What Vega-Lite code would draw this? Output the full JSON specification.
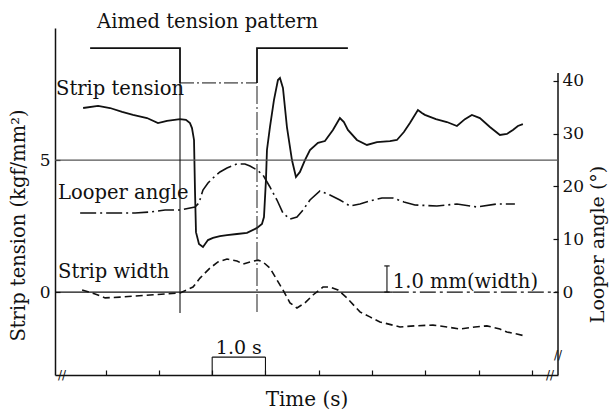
{
  "$schema": "https://vega.github.io/schema/vega-lite/v6.json",
  "width": 503,
  "height": 347,
  "autosize": {"type": "none"},
  "padding": {"left": 55, "top": 28, "right": 51, "bottom": 36},
  "background": "white",
  "config": {
    "view": {"stroke": null},
    "font": "DejaVu Serif",
    "axis": {
      "domainColor": "#111",
      "domainWidth": 1.5,
      "tickColor": "#111",
      "tickWidth": 1.2,
      "labelFont": "DejaVu Serif",
      "labelFontSize": 17,
      "labelColor": "#111",
      "titleFont": "DejaVu Serif",
      "titleFontSize": 20,
      "titleFontWeight": "normal",
      "titleColor": "#111",
      "grid": false
    }
  },
  "datasets": {
    "tension": [
      {"t": 0.578, "T": 6.97}, {"t": 0.859, "T": 7.05}, {"t": 1.083, "T": 6.97}, {"t": 1.31, "T": 6.82},
      {"t": 1.514, "T": 6.71}, {"t": 1.777, "T": 6.59}, {"t": 1.983, "T": 6.4}, {"t": 2.152, "T": 6.48},
      {"t": 2.396, "T": 6.55}, {"t": 2.508, "T": 6.52}, {"t": 2.583, "T": 6.4}, {"t": 2.621, "T": 6.21},
      {"t": 2.659, "T": 5.76}, {"t": 2.677, "T": 3.87}, {"t": 2.696, "T": 2.27}, {"t": 2.752, "T": 1.82},
      {"t": 2.827, "T": 1.71}, {"t": 2.921, "T": 1.97}, {"t": 3.015, "T": 2.05}, {"t": 3.146, "T": 2.12},
      {"t": 3.278, "T": 2.16}, {"t": 3.465, "T": 2.2}, {"t": 3.653, "T": 2.24}, {"t": 3.841, "T": 2.43},
      {"t": 3.934, "T": 2.58}, {"t": 3.972, "T": 2.84}, {"t": 4.009, "T": 4.24}, {"t": 4.028, "T": 5.38},
      {"t": 4.084, "T": 6.25}, {"t": 4.159, "T": 7.27}, {"t": 4.234, "T": 8.03}, {"t": 4.272, "T": 8.11},
      {"t": 4.328, "T": 7.73}, {"t": 4.403, "T": 6.25}, {"t": 4.497, "T": 5.0}, {"t": 4.572, "T": 4.36},
      {"t": 4.647, "T": 4.55}, {"t": 4.741, "T": 5.0}, {"t": 4.835, "T": 5.38}, {"t": 4.985, "T": 5.65},
      {"t": 5.116, "T": 5.72}, {"t": 5.266, "T": 6.14}, {"t": 5.397, "T": 6.59}, {"t": 5.472, "T": 6.44},
      {"t": 5.547, "T": 6.14}, {"t": 5.716, "T": 5.76}, {"t": 5.904, "T": 5.57}, {"t": 6.092, "T": 5.68},
      {"t": 6.336, "T": 5.72}, {"t": 6.467, "T": 5.76}, {"t": 6.598, "T": 6.06}, {"t": 6.711, "T": 6.4},
      {"t": 6.861, "T": 6.89}, {"t": 6.936, "T": 6.78}, {"t": 6.992, "T": 6.71}, {"t": 7.199, "T": 6.55},
      {"t": 7.405, "T": 6.44}, {"t": 7.593, "T": 6.29}, {"t": 7.743, "T": 6.55}, {"t": 7.874, "T": 6.71},
      {"t": 8.024, "T": 6.59}, {"t": 8.212, "T": 6.25}, {"t": 8.4, "T": 5.95}, {"t": 8.531, "T": 5.99},
      {"t": 8.644, "T": 6.14}, {"t": 8.737, "T": 6.29}, {"t": 8.831, "T": 6.36}
    ],
    "angle": [
      {"t": 0.522, "A": 14.97}, {"t": 0.991, "A": 14.97}, {"t": 1.553, "A": 14.97}, {"t": 1.835, "A": 15.16},
      {"t": 2.116, "A": 15.54}, {"t": 2.396, "A": 15.54}, {"t": 2.677, "A": 16.11}, {"t": 2.752, "A": 16.87},
      {"t": 2.827, "A": 19.33}, {"t": 2.921, "A": 20.65}, {"t": 3.015, "A": 21.6}, {"t": 3.146, "A": 22.74},
      {"t": 3.278, "A": 23.49}, {"t": 3.465, "A": 24.25}, {"t": 3.615, "A": 24.25}, {"t": 3.709, "A": 23.87},
      {"t": 3.841, "A": 23.11}, {"t": 3.953, "A": 22.17}, {"t": 4.084, "A": 19.9}, {"t": 4.216, "A": 17.43},
      {"t": 4.328, "A": 14.97}, {"t": 4.46, "A": 13.84}, {"t": 4.591, "A": 14.22}, {"t": 4.704, "A": 15.54},
      {"t": 4.835, "A": 17.43}, {"t": 5.022, "A": 19.14}, {"t": 5.21, "A": 18.38}, {"t": 5.397, "A": 17.43},
      {"t": 5.585, "A": 16.3}, {"t": 5.773, "A": 16.68}, {"t": 5.96, "A": 17.24}, {"t": 6.186, "A": 17.81},
      {"t": 6.392, "A": 17.81}, {"t": 6.598, "A": 17.06}, {"t": 6.805, "A": 16.49}, {"t": 7.217, "A": 16.3},
      {"t": 7.593, "A": 16.68}, {"t": 7.968, "A": 16.11}, {"t": 8.343, "A": 16.68}, {"t": 8.681, "A": 16.68}
    ],
    "width": [
      {"t": 0.559, "W": 0.08}, {"t": 0.803, "W": -0.07}, {"t": 0.991, "W": -0.22}, {"t": 1.272, "W": -0.19},
      {"t": 1.553, "W": -0.15}, {"t": 1.833, "W": -0.11}, {"t": 2.115, "W": -0.07}, {"t": 2.396, "W": -0.03},
      {"t": 2.64, "W": 0.19}, {"t": 2.771, "W": 0.53}, {"t": 2.959, "W": 0.91}, {"t": 3.109, "W": 1.14},
      {"t": 3.278, "W": 1.25}, {"t": 3.465, "W": 1.18}, {"t": 3.578, "W": 1.06}, {"t": 3.709, "W": 1.14},
      {"t": 3.859, "W": 1.21}, {"t": 3.953, "W": 1.14}, {"t": 4.084, "W": 0.91}, {"t": 4.216, "W": 0.46},
      {"t": 4.328, "W": 0.08}, {"t": 4.46, "W": -0.41}, {"t": 4.591, "W": -0.6}, {"t": 4.741, "W": -0.41},
      {"t": 4.891, "W": -0.11}, {"t": 5.079, "W": 0.19}, {"t": 5.21, "W": 0.19}, {"t": 5.36, "W": 0.08},
      {"t": 5.529, "W": -0.22}, {"t": 5.773, "W": -0.75}, {"t": 5.96, "W": -0.94}, {"t": 6.148, "W": -1.13},
      {"t": 6.523, "W": -1.32}, {"t": 6.805, "W": -1.28}, {"t": 7.143, "W": -1.25}, {"t": 7.405, "W": -1.32},
      {"t": 7.649, "W": -1.4}, {"t": 7.93, "W": -1.32}, {"t": 8.156, "W": -1.28}, {"t": 8.4, "W": -1.4},
      {"t": 8.531, "W": -1.51}, {"t": 8.719, "W": -1.59}, {"t": 8.869, "W": -1.66}
    ],
    "pattern": [
      {"seg": "a", "i": 1, "t": 0.709, "T": 9.24}, {"seg": "a", "i": 2, "t": 2.396, "T": 9.24}, {"seg": "a", "i": 3, "t": 2.396, "T": 7.92},
      {"seg": "b", "i": 4, "t": 2.396, "T": 7.92}, {"seg": "b", "i": 5, "t": 3.841, "T": 7.92},
      {"seg": "c", "i": 6, "t": 3.841, "T": 7.92}, {"seg": "c", "i": 7, "t": 3.841, "T": 9.24}, {"seg": "c", "i": 8, "t": 5.547, "T": 9.24}
    ],
    "hlines": [
      {"kind": "grid5", "t": 0.05, "t2": 9.49, "T": 5},
      {"kind": "zero", "t": 0.05, "t2": 6.39, "T": 0},
      {"kind": "zerodash", "t": 6.39, "t2": 9.49, "T": 0},
      {"kind": "bracket", "t": 3.0, "t2": 4.0, "T": -2.46},
      {"kind": "serif", "t": 6.23, "t2": 6.33, "T": 0.99},
      {"kind": "serif", "t": 6.23, "t2": 6.33, "T": 0}
    ],
    "vlines": [
      {"kind": "step1", "t": 2.396, "T": -0.79, "T2": 7.92},
      {"kind": "step2", "t": 3.841, "T": -0.75, "T2": 7.92},
      {"kind": "bracket", "t": 3.0, "T": -3.14, "T2": -2.46},
      {"kind": "bracket", "t": 4.0, "T": -3.14, "T2": -2.46},
      {"kind": "mm", "t": 6.28, "T": 0, "T2": 0.99}
    ],
    "labels": [
      {"label": "Aimed tension pattern", "t": 0.84, "T": 9.99},
      {"label": "Strip tension", "t": 0.07, "T": 7.46},
      {"label": "Looper angle", "t": 0.107, "T": 3.51},
      {"label": "Strip width", "t": 0.107, "T": 0.53},
      {"label": "1.0 mm(width)", "t": 6.39, "T": 0.15}
    ],
    "clabels": [
      {"label": "1.0 s", "t": 3.5, "T": -2.34}
    ],
    "breaks": [
      {"t": 0.18, "T": -3.14},
      {"t": 9.34, "T": -3.14},
      {"t": 9.49, "T": -2.38}
    ],
    "raxis": [
      {"t": 9.49, "A": -15.7, "A2": 41.5}
    ]
  },
  "layer": [
    {
      "data": {"name": "tension"},
      "mark": {"type": "line", "color": "#111", "strokeWidth": 1.8},
      "encoding": {
        "x": {"field": "t", "type": "quantitative", "scale": {"domain": [0.05, 9.49], "nice": false, "zero": false},
              "axis": {"values": [1, 2, 3, 4, 5, 6, 7, 8, 9], "labels": false, "tickSize": -5, "title": "Time (s)", "titleY": 24, "titleBaseline": "middle"}},
        "y": {"field": "T", "type": "quantitative", "scale": {"domain": [-3.14, 10], "nice": false, "zero": false},
              "axis": {"orient": "left", "values": [0, 5], "tickSize": -5, "labelPadding": 10, "title": "Strip tension (kgf/mm²)", "titleX": -37, "titleY": 197, "titleAngle": 270, "titleBaseline": "middle", "titleAlign": "center", "titleFontSize": 19.5}}
      }
    },
    {
      "data": {"name": "angle"},
      "mark": {"type": "line", "color": "#111", "strokeWidth": 1.6, "strokeDash": [16, 4, 2, 4]},
      "encoding": {
        "x": {"field": "t", "type": "quantitative", "scale": {"domain": [0.05, 9.49], "nice": false, "zero": false}},
        "y": {"field": "A", "type": "quantitative", "scale": {"domain": [-15.7, 50], "nice": false, "zero": false},
              "axis": {"orient": "right", "values": [0, 10, 20, 30, 40], "domain": false, "tickSize": -5, "labelPadding": 9, "title": "Looper angle (°)", "titleX": 39, "titleY": 216, "titleAngle": 270, "titleBaseline": "middle", "titleAlign": "center", "titleFontSize": 19}}
      }
    },
    {
      "data": {"name": "raxis"},
      "mark": {"type": "rule", "color": "#111", "strokeWidth": 1.5},
      "encoding": {
        "x": {"field": "t", "type": "quantitative", "scale": {"domain": [0.05, 9.49], "nice": false, "zero": false}},
        "y": {"field": "A", "type": "quantitative", "scale": {"domain": [-15.7, 50], "nice": false, "zero": false}, "axis": null},
        "y2": {"field": "A2"}
      }
    },
    {
      "data": {"name": "width"},
      "mark": {"type": "line", "color": "#111", "strokeWidth": 1.6, "strokeDash": [7, 4]},
      "encoding": {
        "x": {"field": "t", "type": "quantitative", "scale": {"domain": [0.05, 9.49], "nice": false, "zero": false}},
        "y": {"field": "W", "type": "quantitative", "scale": {"domain": [-3.14, 10], "nice": false, "zero": false}, "axis": null}
      }
    },
    {
      "data": {"name": "pattern"},
      "transform": [{"filter": "datum.seg !== 'b'"}],
      "mark": {"type": "line", "color": "#111", "strokeWidth": 1.8},
      "encoding": {
        "x": {"field": "t", "type": "quantitative", "scale": {"domain": [0.05, 9.49], "nice": false, "zero": false}},
        "y": {"field": "T", "type": "quantitative", "scale": {"domain": [-3.14, 10], "nice": false, "zero": false}, "axis": null},
        "detail": {"field": "seg"},
        "order": {"field": "i", "type": "quantitative"}
      }
    },
    {
      "data": {"name": "pattern"},
      "transform": [{"filter": "datum.seg === 'b'"}],
      "mark": {"type": "line", "color": "#111", "strokeWidth": 1, "strokeDash": [14, 3, 2, 3]},
      "encoding": {
        "x": {"field": "t", "type": "quantitative", "scale": {"domain": [0.05, 9.49], "nice": false, "zero": false}},
        "y": {"field": "T", "type": "quantitative", "scale": {"domain": [-3.14, 10], "nice": false, "zero": false}, "axis": null},
        "order": {"field": "i", "type": "quantitative"}
      }
    },
    {
      "data": {"name": "hlines"},
      "transform": [{"filter": "datum.kind === 'grid5'"}],
      "mark": {"type": "rule", "color": "#555", "strokeWidth": 1.3},
      "encoding": {
        "x": {"field": "t", "type": "quantitative", "scale": {"domain": [0.05, 9.49], "nice": false, "zero": false}},
        "x2": {"field": "t2"},
        "y": {"field": "T", "type": "quantitative", "scale": {"domain": [-3.14, 10], "nice": false, "zero": false}, "axis": null}
      }
    },
    {
      "data": {"name": "hlines"},
      "transform": [{"filter": {"field": "kind", "oneOf": ["zero", "bracket", "serif"]}}],
      "mark": {"type": "rule", "color": "#111", "strokeWidth": 1.2},
      "encoding": {
        "x": {"field": "t", "type": "quantitative", "scale": {"domain": [0.05, 9.49], "nice": false, "zero": false}},
        "x2": {"field": "t2"},
        "y": {"field": "T", "type": "quantitative", "scale": {"domain": [-3.14, 10], "nice": false, "zero": false}, "axis": null}
      }
    },
    {
      "data": {"name": "hlines"},
      "transform": [{"filter": "datum.kind === 'zerodash'"}],
      "mark": {"type": "rule", "color": "#111", "strokeWidth": 1.2, "strokeDash": [16, 4, 3, 4]},
      "encoding": {
        "x": {"field": "t", "type": "quantitative", "scale": {"domain": [0.05, 9.49], "nice": false, "zero": false}},
        "x2": {"field": "t2"},
        "y": {"field": "T", "type": "quantitative", "scale": {"domain": [-3.14, 10], "nice": false, "zero": false}, "axis": null}
      }
    },
    {
      "data": {"name": "vlines"},
      "transform": [{"filter": "datum.kind !== 'step2'"}],
      "mark": {"type": "rule", "color": "#111", "strokeWidth": 1.1},
      "encoding": {
        "x": {"field": "t", "type": "quantitative", "scale": {"domain": [0.05, 9.49], "nice": false, "zero": false}},
        "y": {"field": "T", "type": "quantitative", "scale": {"domain": [-3.14, 10], "nice": false, "zero": false}, "axis": null},
        "y2": {"field": "T2"}
      }
    },
    {
      "data": {"name": "vlines"},
      "transform": [{"filter": "datum.kind === 'step2'"}],
      "mark": {"type": "rule", "color": "#333", "strokeWidth": 1.1, "strokeDash": [18, 3, 2, 3]},
      "encoding": {
        "x": {"field": "t", "type": "quantitative", "scale": {"domain": [0.05, 9.49], "nice": false, "zero": false}},
        "y": {"field": "T", "type": "quantitative", "scale": {"domain": [-3.14, 10], "nice": false, "zero": false}, "axis": null},
        "y2": {"field": "T2"}
      }
    },
    {
      "data": {"name": "labels"},
      "mark": {"type": "text", "align": "left", "baseline": "alphabetic", "font": "DejaVu Serif", "fontSize": 19.5, "color": "#111"},
      "encoding": {
        "x": {"field": "t", "type": "quantitative", "scale": {"domain": [0.05, 9.49], "nice": false, "zero": false}},
        "y": {"field": "T", "type": "quantitative", "scale": {"domain": [-3.14, 10], "nice": false, "zero": false}, "axis": null},
        "text": {"field": "label"}
      }
    },
    {
      "data": {"name": "clabels"},
      "mark": {"type": "text", "align": "center", "baseline": "alphabetic", "font": "DejaVu Serif", "fontSize": 19, "color": "#111"},
      "encoding": {
        "x": {"field": "t", "type": "quantitative", "scale": {"domain": [0.05, 9.49], "nice": false, "zero": false}},
        "y": {"field": "T", "type": "quantitative", "scale": {"domain": [-3.14, 10], "nice": false, "zero": false}, "axis": null},
        "text": {"field": "label"}
      }
    },
    {
      "data": {"name": "breaks"},
      "mark": {"type": "text", "text": "//", "align": "center", "baseline": "middle", "font": "DejaVu Sans", "fontSize": 12, "color": "#111"},
      "encoding": {
        "x": {"field": "t", "type": "quantitative", "scale": {"domain": [0.05, 9.49], "nice": false, "zero": false}},
        "y": {"field": "T", "type": "quantitative", "scale": {"domain": [-3.14, 10], "nice": false, "zero": false}, "axis": null}
      }
    }
  ],
  "resolve": {"scale": {"y": "independent"}}
}
